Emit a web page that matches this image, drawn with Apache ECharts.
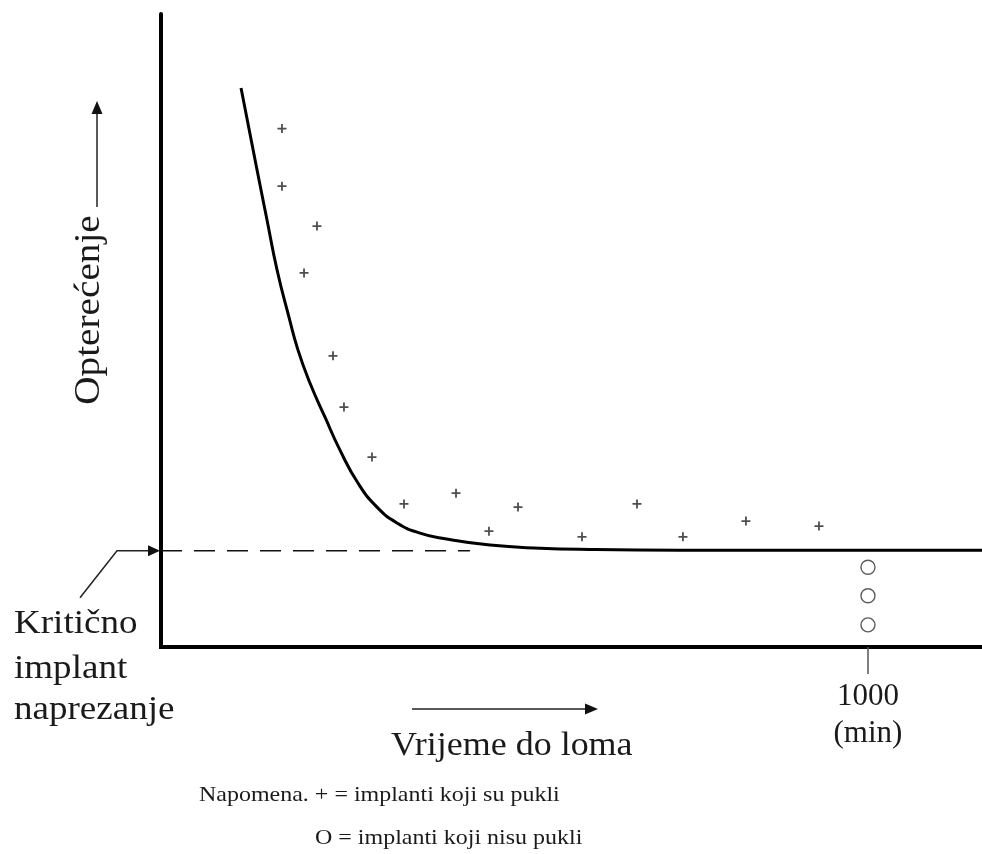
<!DOCTYPE html>
<html>
<head>
<meta charset="utf-8">
<script src="https://cdn.jsdelivr.net/npm/echarts@6/dist/echarts.min.js"></script>
<style>
html,body{margin:0;padding:0;background:#fff;}
#chart{width:982px;height:854px;}
</style>
</head>
<body>
<div id="chart"></div>
<script>
// ---- data (x: time to fracture, min; y: load, arbitrary units 0-100) ----
const curveX = [113.2, 135.8, 149.9, 164.1, 181.0, 193.8, 210.7, 232.0, 253.2, 278.6, 305.5, 333.8, 366.3, 401.7, 465.3, 536.1, 606.8, 734.0, 1161.3];
const curveY = [88.3, 75.4, 67.5, 59.6, 52.1, 46.9, 41.7, 36.3, 31.1, 25.9, 22.1, 19.6, 18.0, 17.1, 16.1, 15.6, 15.4, 15.3, 15.3];
const brokenX = [171.1, 171.1, 220.6, 202.3, 243.3, 258.8, 298.4, 343.7, 417.3, 463.9, 505.0, 595.5, 673.3, 738.3, 827.4, 930.7];
const brokenY = [81.9, 72.8, 66.5, 59.1, 46.0, 37.9, 30.0, 22.6, 24.3, 18.3, 22.1, 17.4, 22.6, 17.4, 19.9, 19.1];
const intactX = [1000, 1000, 1000];
const intactY = [12.6, 8.1, 3.5];
const criticalLoad = 15.2;
const criticalLineEndX = 437;
const xTickValues = [1000];
const xTickLabel = '1000\n(min)';

const FONT = '"Liberation Serif", "Times New Roman", serif';
const INK = '#1a1a1a';
const STRETCH = 1.09;

const zip = (a, b) => a.map((v, i) => [v, b[i]]);
const plusPath = 'path://M4,0H6V4H10V6H6V10H4V6H0V4H4Z';

const chart = echarts.init(document.getElementById('chart'), null, {renderer: 'canvas'});

const option = {
  backgroundColor: '#fff',
  animation: false,
  grid: {left: 161, right: 0, top: 14, bottom: 207, containLabel: false},
  xAxis: {
    type: 'value', min: 0, max: 1161.3,
    splitLine: {show: false},
    axisLine: {show: true, onZero: false, lineStyle: {color: '#000', width: 4, cap: 'square'}},
    axisTick: {show: true, customValues: xTickValues, length: 27, lineStyle: {color: '#555', width: 1.5}},
    axisLabel: {show: true, customValues: xTickValues, formatter: () => xTickLabel,
      margin: 31, fontFamily: FONT, fontSize: 31, lineHeight: 37, color: INK, align: 'center'}
  },
  yAxis: {
    type: 'value', min: 0, max: 100,
    splitLine: {show: false},
    axisLine: {show: true, onZero: false, lineStyle: {color: '#000', width: 4}},
    axisTick: {show: false},
    axisLabel: {show: false}
  },
  series: [
    {
      type: 'line', name: 'curve', data: zip(curveX, curveY),
      smooth: 0.5, showSymbol: false, symbol: 'none',
      lineStyle: {color: '#000', width: 3}, z: 3
    },
    {
      type: 'line', name: 'critical', data: [[0, criticalLoad], [criticalLineEndX, criticalLoad]],
      showSymbol: false, symbol: 'none',
      lineStyle: {color: '#111', width: 1.5, type: [21, 12]}, z: 2
    },
    {
      type: 'scatter', name: 'broken', data: zip(brokenX, brokenY),
      symbol: plusPath, symbolSize: 9,
      itemStyle: {color: '#222'}, z: 4
    },
    {
      type: 'scatter', name: 'intact', data: zip(intactX, intactY),
      symbol: 'circle', symbolSize: 14,
      itemStyle: {color: '#fff', borderColor: '#333', borderWidth: 1.4}, z: 4
    }
  ]
};
chart.setOption(option);

// annotation graphics
const crit = chart.convertToPixel({gridIndex: 0}, [0, criticalLoad]);
const cy = crit[1];
const ax = crit[0] - 1;
const lineStyle = {stroke: '#222', lineWidth: 1.5};
const txt = (x, y, text, size, align, rotation) => ({
  type: 'text', x: x, y: y, scaleX: STRETCH, rotation: rotation || 0,
  style: {text: text, font: size + 'px ' + FONT, fill: INK, align: align || 'left', verticalAlign: 'middle'}
});

chart.setOption({
  graphic: [
    // critical load pointer
    {type: 'polyline', shape: {points: [[80, cy + 47], [117, cy], [ax - 11, cy]]}, style: Object.assign({fill: null}, lineStyle)},
    {type: 'polygon', shape: {points: [[ax, cy], [ax - 12, cy - 5.5], [ax - 12, cy + 5.5]]}, style: {fill: '#111'}},
    // y title arrow
    {type: 'line', shape: {x1: 97, y1: 207, x2: 97, y2: 112}, style: lineStyle},
    {type: 'polygon', shape: {points: [[97, 101], [91.5, 114], [102.5, 114]]}, style: {fill: '#111'}},
    // x title arrow
    {type: 'line', shape: {x1: 412, y1: 709, x2: 586, y2: 709}, style: lineStyle},
    {type: 'polygon', shape: {points: [[598, 709], [585, 703.5], [585, 714.5]]}, style: {fill: '#111'}},
    // titles
    txt(90, 310, 'Opterećenje', 36, 'center', Math.PI / 2),
    txt(391, 746, 'Vrijeme do loma', 33),
    txt(14, 624, 'Kritično', 34),
    txt(14, 669, 'implant', 34),
    txt(14, 710, 'naprezanje', 34),
    txt(199, 795, 'Napomena. + = implanti koji su pukli', 22),
    txt(315, 838, 'O = implanti koji nisu pukli', 22)
  ]
});
</script>
</body>
</html>
